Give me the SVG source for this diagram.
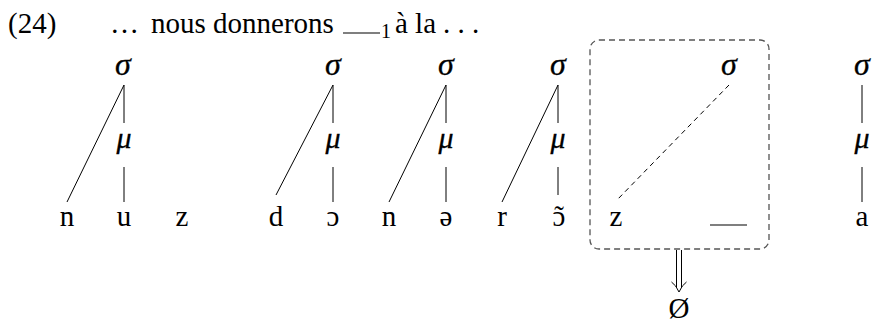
<svg xmlns="http://www.w3.org/2000/svg" width="872" height="324" viewBox="0 0 872 324">
<style>
text{font-family:'Liberation Serif','Times New Roman','DejaVu Serif',serif;fill:#000}
.t{font-size:29px}
.sub{font-size:20px}
.g{font-style:italic;font-size:32px;text-anchor:middle;stroke:#000;stroke-width:0.3}
.m{font-style:italic;font-size:30px;text-anchor:middle;stroke:#000;stroke-width:0.3}
.s{font-size:29px;text-anchor:middle}
.l{stroke:#000;stroke-width:1;fill:none}
.d{stroke:#000;stroke-width:1;stroke-dasharray:5 4;fill:none}
.box{stroke:#555;stroke-width:1.3;stroke-dasharray:6 4;fill:none}
.blank{stroke:#555;stroke-width:1.3}
</style>
<g id="title">
<text class="t" x="8" y="33">(24)</text>
<text class="t" x="110" y="33">…</text>
<text class="t" x="151" y="33">nous donnerons</text>
<line class="blank" x1="343" y1="33" x2="380" y2="33"/>
<text class="sub" x="381" y="38">1</text>
<text class="t" x="395" y="33">à la</text>
<text class="t" x="443" y="33">. . .</text>
</g>
<g id="connectors">
<line class="l" x1="124" y1="85" x2="124" y2="123"/>
<line class="l" x1="124" y1="167" x2="124" y2="202"/>
<line class="l" x1="124" y1="85" x2="67" y2="202"/>
<line class="l" x1="333" y1="85" x2="333" y2="123"/>
<line class="l" x1="333" y1="167" x2="333" y2="202"/>
<line class="l" x1="333" y1="85" x2="276" y2="195"/>
<line class="l" x1="446" y1="85" x2="446" y2="123"/>
<line class="l" x1="446" y1="167" x2="446" y2="202"/>
<line class="l" x1="446" y1="85" x2="389" y2="202"/>
<line class="l" x1="558" y1="85" x2="558" y2="123"/>
<line class="l" x1="558" y1="167" x2="558" y2="195"/>
<line class="l" x1="558" y1="85" x2="502" y2="202"/>
<line class="d" x1="729" y1="85" x2="616" y2="201"/>
<line class="l" x1="862" y1="85" x2="862" y2="123"/>
<line class="l" x1="862" y1="167" x2="862" y2="202"/>
<line class="l" x1="676.5" y1="250" x2="676.5" y2="287"/>
<line class="l" x1="681.5" y1="250" x2="681.5" y2="287"/>
<path class="l" d="M671.5,282 Q676,285 679,292 Q682,285 686.5,282"/>
</g>
<g id="box"><rect class="box" x="590" y="40" width="179" height="209" rx="9"/></g>
<g id="syl1"><text class="g" x="123" y="75">σ</text><text class="m" x="124" y="148">μ</text></g>
<g id="syl2"><text class="g" x="333" y="75">σ</text><text class="m" x="333" y="148">μ</text></g>
<g id="syl3"><text class="g" x="446" y="75">σ</text><text class="m" x="446" y="148">μ</text></g>
<g id="syl4"><text class="g" x="558" y="75">σ</text><text class="m" x="558" y="148">μ</text></g>
<g id="syl5"><text class="g" x="729" y="75">σ</text></g>
<g id="syl6"><text class="g" x="862" y="75">σ</text><text class="m" x="862" y="148">μ</text></g>
<g id="segments">
<text class="s" x="67" y="226">n</text>
<text class="s" x="124" y="226">u</text>
<text class="s" x="182" y="226">z</text>
<text class="s" x="276" y="226">d</text>
<text class="s" x="333" y="226">ɔ</text>
<text class="s" x="389" y="226">n</text>
<text class="s" x="446" y="226">ə</text>
<text class="s" x="502" y="226">r</text>
<text class="s" x="559" y="226">ɔ</text>
<text class="s" x="559" y="226">˜</text>
<text class="s" x="616" y="226">z</text>
<line class="blank" x1="710" y1="225" x2="747" y2="225"/>
<text class="s" x="862" y="226">a</text>
</g>
<g id="null"><text class="t" x="679" y="318" text-anchor="middle">Ø</text></g>
</svg>
